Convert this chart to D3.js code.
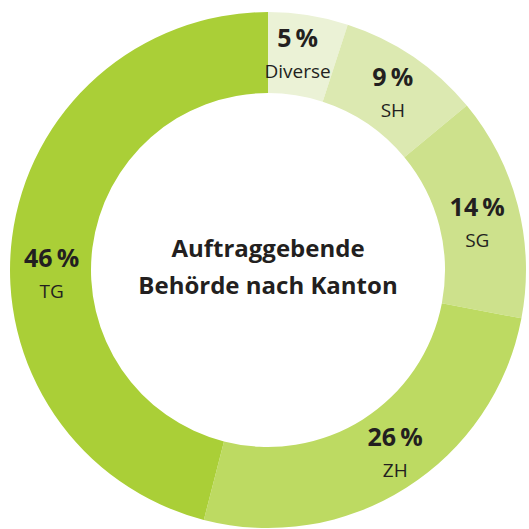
<!DOCTYPE html>
<head>
  <style>
    body { margin: 0; background: #fff; }
    text { font-family: "Open Sans", "Noto Sans", sans-serif; fill: #231f20; }
  </style>
  <title>Auftraggebende Behörde nach Kanton</title>
</head>
<body>
  <script src="https://cdn.jsdelivr.net/npm/d3@7"></script>
  <script>
    // data, clockwise from 12 o'clock
    var cantons = ["Diverse", "SH", "SG", "ZH", "TG"];
    var shares = [5, 9, 14, 26, 46];
    var colors = ["#ebf2d6", "#dce9b1", "#cde18c", "#bdda62", "#aacf37"];
    var titleLines = ["Auftraggebende", "Behörde nach Kanton"];

    // small manual nudges for the label blocks (layout only)
    var nudge = [[-4, 0], [4, 5], [1, 10], [12, 5], [-3, 35]];

    var width = 529, height = 529;
    var cx = 268, cy = 270;
    var outerR = 258, innerR = 177, labelR = 215;

    var svg = d3.select("body").append("svg")
      .attr("width", width)
      .attr("height", height);

    var g = svg.append("g")
      .attr("transform", "translate(" + cx + "," + cy + ")");

    var data = cantons.map(function(c, i) { return {name: c, value: shares[i], i: i}; });

    var pie = d3.pie().sort(null).value(function(d) { return d.value; });
    var arc = d3.arc().innerRadius(innerR).outerRadius(outerR);
    var labelArc = d3.arc().innerRadius(labelR).outerRadius(labelR);

    var arcs = pie(data);

    g.selectAll("path.slice")
      .data(arcs)
      .enter().append("path")
      .attr("class", "slice")
      .attr("d", arc)
      .attr("fill", function(d) { return colors[d.data.i]; });

    var labels = g.selectAll("g.label")
      .data(arcs)
      .enter().append("g")
      .attr("class", "label")
      .attr("transform", function(d) {
        var c = labelArc.centroid(d);
        var n = nudge[d.data.i];
        return "translate(" + (c[0] + n[0]) + "," + (c[1] + n[1]) + ")";
      });

    labels.append("text")
      .attr("y", -11)
      .attr("text-anchor", "middle")
      .style("font-size", "25px")
      .style("font-weight", "bold")
      .text(function(d) { return d.data.value + "\u2009%"; });

    labels.append("text")
      .attr("y", 20)
      .attr("text-anchor", "middle")
      .style("font-size", "19px")
      .text(function(d) { return d.data.name; });

    // center title
    g.selectAll("text.title")
      .data(titleLines)
      .enter().append("text")
      .attr("class", "title")
      .attr("x", 0)
      .attr("y", function(d, i) { return -13 + i * 37; })
      .attr("text-anchor", "middle")
      .style("font-size", "24px")
      .style("font-weight", "bold")
      .text(function(d) { return d; });
  </script>
</body>
